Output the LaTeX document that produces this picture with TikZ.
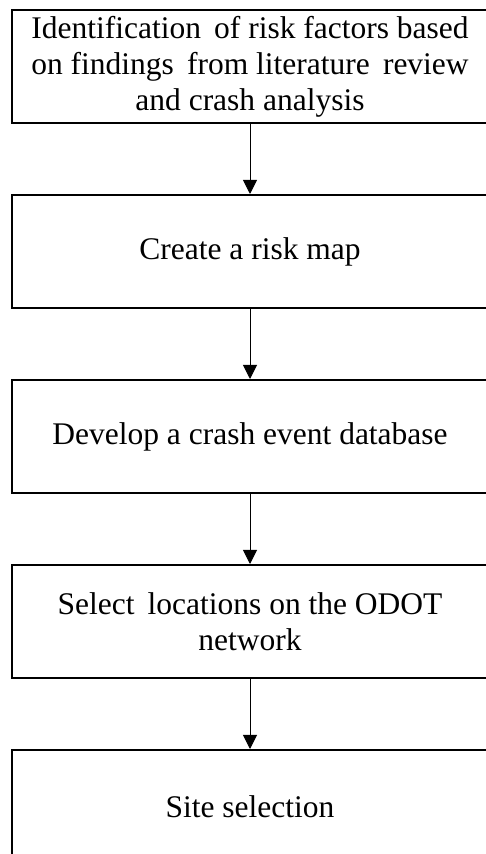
\documentclass[tikz,border=0pt]{standalone}
\usepackage{fontspec}
\setmainfont{Liberation Serif}
\usetikzlibrary{positioning, arrows.meta}
\tikzset{
        x=1pt, y=1pt,
        node distance=70pt, % gap between two steps
        step box/.style={
		draw,
		line width=2pt,
		minimum width=476pt,
		minimum height=113pt,
		align=center,
		font=\fontsize{31.5}{36}\selectfont,
	  },
  		flow/.style={
    	line width=1pt,
    	-{Triangle[length=14pt,width=14pt]},
      }
  	}
\begin{document}
\begin{tikzpicture}
    \useasboundingbox (0,0) rectangle (485,854);
    \node [step box] (id) at (250,787.5) {Identification\, of risk factors based\\on findings\, from literature\, review\\and crash analysis};
    \node [step box, below=of id] (map) {Create a risk map};
    \node [step box, below=of map] (db) {Develop a crash event database};
    \node [step box, below=of db] (loc) {Select\, locations on the ODOT\\network};
    \node [step box, below=of loc] (site) {Site selection};
    \draw [flow] (id) -- (map);
    \draw [flow] (map) -- (db);
    \draw [flow] (db) -- (loc);
    \draw [flow] (loc) -- (site);
  \end{tikzpicture}
\end{document}
